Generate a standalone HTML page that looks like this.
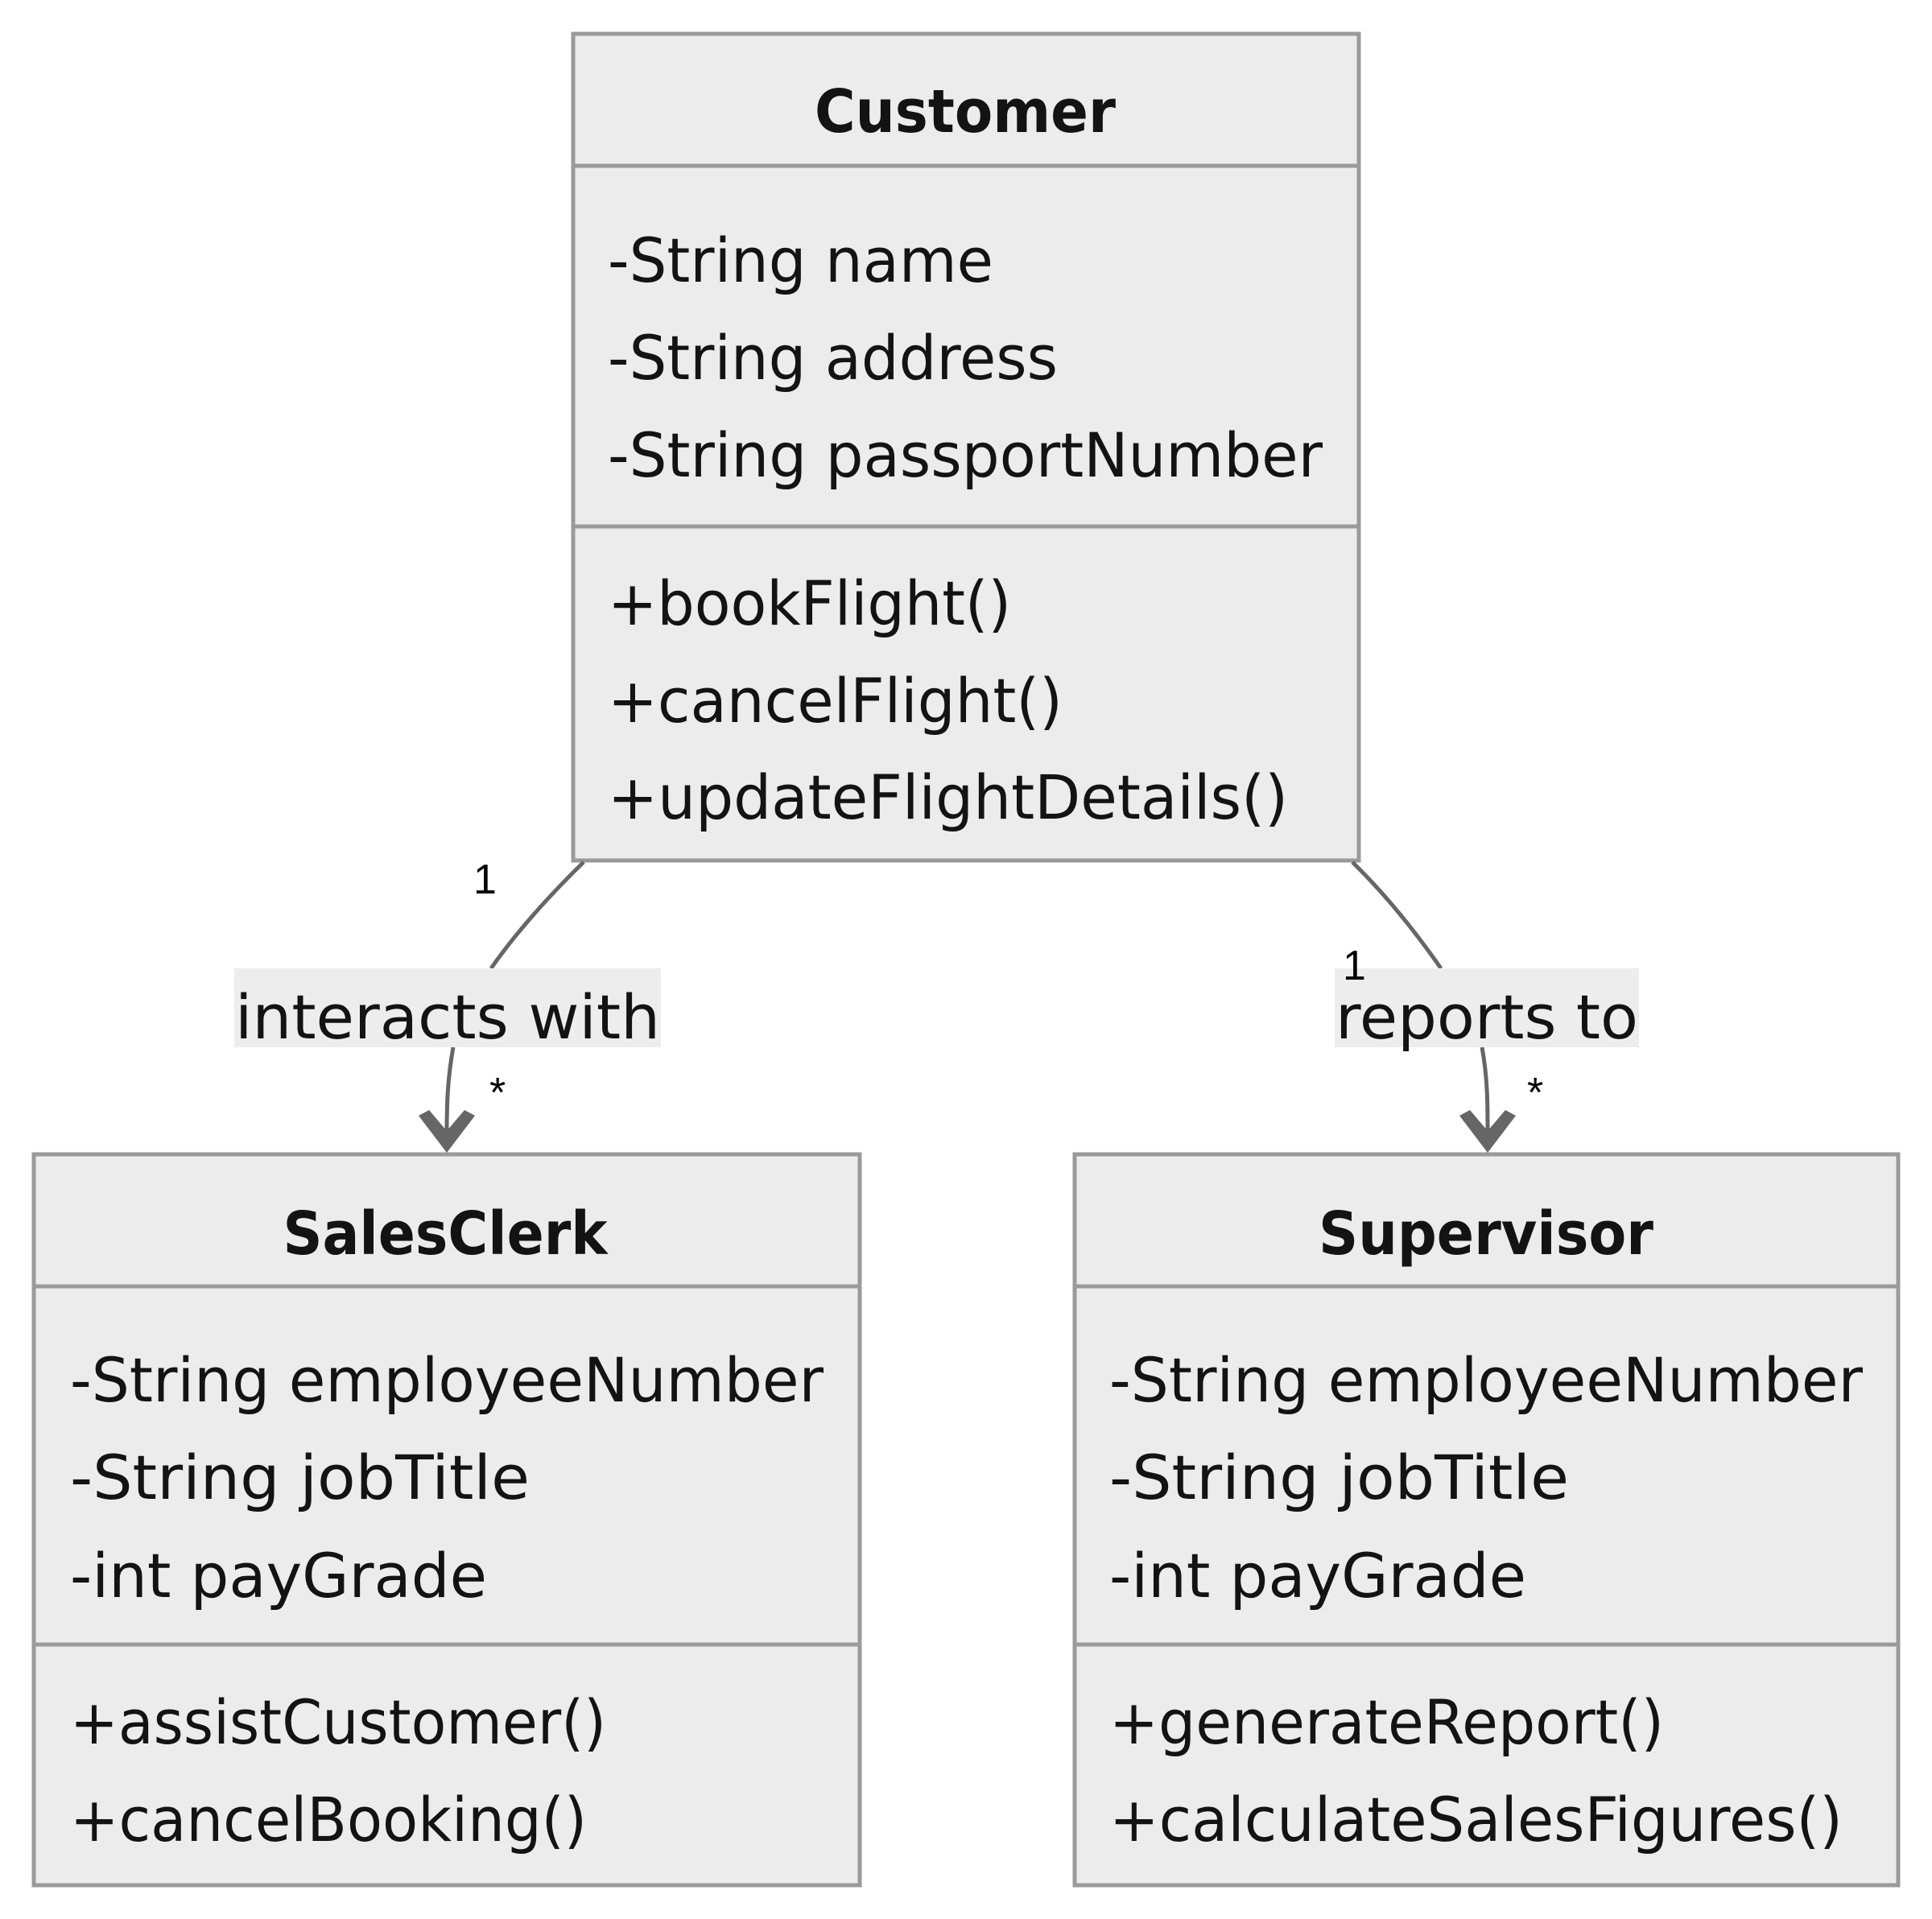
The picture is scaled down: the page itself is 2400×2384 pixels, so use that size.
<!DOCTYPE html>
<html><head><meta charset="utf-8"><style>
html,body{margin:0;padding:0;background:#fff}
svg{display:block}
.t{font-family:"DejaVu Sans","Liberation Sans",sans-serif;font-size:76px;fill:#131313}
.b{font-family:"DejaVu Sans","Liberation Sans",sans-serif;font-size:74px;font-weight:bold;fill:#131313}
.s{font-family:"Liberation Sans",sans-serif;font-size:52px;fill:#000}
</style></head><body>
<svg width="2400" height="2384" viewBox="0 0 2400 2384" xmlns="http://www.w3.org/2000/svg">
<g fill="#ECECEC" stroke="#9a9a9a" stroke-width="5">
<rect x="712" y="42" width="976" height="1027"/>
<line x1="712" y1="206" x2="1688" y2="206"/>
<line x1="712" y1="654" x2="1688" y2="654"/>
<rect x="42" y="1434" width="1026" height="908"/>
<line x1="42" y1="1598" x2="1068" y2="1598"/>
<line x1="42" y1="2043" x2="1068" y2="2043"/>
<rect x="1335" y="1434" width="1023" height="908"/>
<line x1="1335" y1="1598" x2="2358" y2="1598"/>
<line x1="1335" y1="2043" x2="2358" y2="2043"/>
</g>
<text class="b" x="1199" y="164" text-anchor="middle" textLength="374" lengthAdjust="spacingAndGlyphs">Customer</text>
<text class="t" x="755" y="350" textLength="479" lengthAdjust="spacingAndGlyphs">-String name</text>
<text class="t" x="755" y="471" textLength="559" lengthAdjust="spacingAndGlyphs">-String address</text>
<text class="t" x="755" y="592" textLength="888" lengthAdjust="spacingAndGlyphs">-String passportNumber</text>
<text class="t" x="755" y="776" textLength="501" lengthAdjust="spacingAndGlyphs">+bookFlight()</text>
<text class="t" x="755" y="897" textLength="565" lengthAdjust="spacingAndGlyphs">+cancelFlight()</text>
<text class="t" x="755" y="1017" textLength="845" lengthAdjust="spacingAndGlyphs">+updateFlightDetails()</text>

<text class="b" x="553" y="1558" text-anchor="middle" textLength="403" lengthAdjust="spacingAndGlyphs">SalesClerk</text>
<text class="t" x="87" y="1741" textLength="936" lengthAdjust="spacingAndGlyphs">-String employeeNumber</text>
<text class="t" x="87" y="1862" textLength="571" lengthAdjust="spacingAndGlyphs">-String jobTitle</text>
<text class="t" x="87" y="1984" textLength="518" lengthAdjust="spacingAndGlyphs">-int payGrade</text>
<text class="t" x="87" y="2166" textLength="666" lengthAdjust="spacingAndGlyphs">+assistCustomer()</text>
<text class="t" x="87" y="2287" textLength="642" lengthAdjust="spacingAndGlyphs">+cancelBooking()</text>

<text class="b" x="1846" y="1558" text-anchor="middle" textLength="416" lengthAdjust="spacingAndGlyphs">Supervisor</text>
<text class="t" x="1378" y="1741" textLength="936" lengthAdjust="spacingAndGlyphs">-String employeeNumber</text>
<text class="t" x="1378" y="1862" textLength="571" lengthAdjust="spacingAndGlyphs">-String jobTitle</text>
<text class="t" x="1378" y="1984" textLength="518" lengthAdjust="spacingAndGlyphs">-int payGrade</text>
<text class="t" x="1378" y="2166" textLength="689" lengthAdjust="spacingAndGlyphs">+generateReport()</text>
<text class="t" x="1378" y="2287" textLength="911" lengthAdjust="spacingAndGlyphs">+calculateSalesFigures()</text>

<g fill="none" stroke="#666" stroke-width="5">
<path d="M725,1071 C680,1115 640,1160 610,1203"/>
<path d="M563,1301 C556,1340 555,1370 555,1410"/>
<path d="M1680,1071 C1725,1115 1760,1160 1790,1203"/>
<path d="M1841,1301 C1848,1340 1848,1370 1848,1410"/>
</g>
<g fill="#666">
<polygon points="555,1432 520,1386 533,1379 555,1405 577,1379 590,1386"/>
<polygon points="1848,1432 1813,1386 1826,1379 1848,1405 1870,1379 1883,1386"/>
</g>
<rect x="291" y="1203" width="530" height="98" fill="#EDEDED"/>
<rect x="1658" y="1203" width="378" height="98" fill="#EDEDED"/>
<text class="t" x="556" y="1290" text-anchor="middle" textLength="528" lengthAdjust="spacingAndGlyphs">interacts with</text>
<text class="t" x="1847" y="1290" text-anchor="middle" textLength="376" lengthAdjust="spacingAndGlyphs">reports to</text>
<text class="s" x="588" y="1110">1</text>
<text class="s" x="1668" y="1217">1</text>
<text class="s" x="608" y="1375">*</text>
<text class="s" x="1897" y="1375">*</text>
</svg>
</body></html>
